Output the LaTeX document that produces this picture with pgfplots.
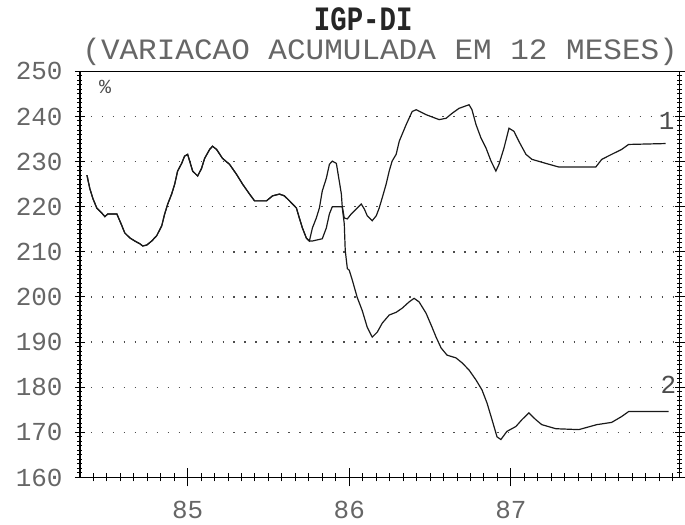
\documentclass[border=0pt]{standalone}
\usepackage{fontspec}
\setmainfont{Liberation Mono}
\usepackage{pgfplots}
\pgfplotsset{compat=1.18}

\pgfplotstableread{
x y
84.377 227.0
84.395 224.0
84.414 221.8
84.438 219.7
84.469 218.6
84.488 217.8
84.506 218.4
84.562 218.4
84.580 216.9
84.593 215.8
84.611 214.2
84.642 213.1
84.673 212.4
84.704 211.8
84.722 211.3
84.747 211.5
84.778 212.4
84.809 213.6
84.840 215.8
84.858 218.4
84.877 220.6
84.901 222.8
84.920 225.0
84.938 227.9
84.963 229.6
84.981 231.2
85.000 231.6
85.031 227.9
85.062 226.8
85.086 228.5
85.105 230.7
85.136 232.7
85.154 233.4
85.179 232.7
85.216 230.7
85.259 229.4
85.302 227.2
85.340 225.0
85.383 222.8
85.414 221.3
85.488 221.3
85.525 222.4
85.568 222.8
85.599 222.4
85.630 221.3
85.673 219.7
85.691 217.5
85.710 215.3
85.735 213.0
85.753 212.4
85.772 212.4
85.833 212.9
85.858 215.3
85.877 218.4
85.895 220.0
85.957 220.0
85.969 217.5
85.988 217.3
86.012 218.4
86.043 219.5
86.074 220.6
86.093 219.5
86.111 218.0
86.142 216.9
86.167 218.0
86.185 219.7
86.204 222.0
86.228 225.0
86.247 227.9
86.265 230.1
86.290 231.6
86.309 234.5
86.352 238.2
86.389 241.1
86.414 241.5
86.475 240.4
86.556 239.3
86.599 239.6
86.636 240.7
86.679 241.8
86.741 242.6
86.759 241.5
86.784 238.2
86.815 235.2
86.846 233.0
86.877 230.1
86.907 227.9
86.926 229.4
86.957 233.0
86.988 237.4
87.019 236.7
87.049 234.5
87.093 231.6
87.130 230.5
87.216 229.6
87.296 228.8
87.525 228.8
87.562 230.5
87.623 231.6
87.685 232.7
87.728 233.8
87.957 234.0
}\serieA

\pgfplotstableread{
x y
84.377 227.0
84.395 224.0
84.414 221.8
84.438 219.7
84.469 218.6
84.488 217.8
84.506 218.4
84.562 218.4
84.580 216.9
84.593 215.8
84.611 214.2
84.642 213.1
84.673 212.4
84.704 211.8
84.722 211.3
84.747 211.5
84.778 212.4
84.809 213.6
84.840 215.8
84.858 218.4
84.877 220.6
84.901 222.8
84.920 225.0
84.938 227.9
84.963 229.6
84.981 231.2
85.000 231.6
85.031 227.9
85.062 226.8
85.086 228.5
85.105 230.7
85.136 232.7
85.154 233.4
85.179 232.7
85.216 230.7
85.259 229.4
85.302 227.2
85.340 225.0
85.383 222.8
85.414 221.3
85.488 221.3
85.525 222.4
85.568 222.8
85.599 222.4
85.630 221.3
85.673 219.7
85.691 217.5
85.710 215.3
85.735 213.0
85.753 212.4
85.772 215.3
85.796 217.5
85.815 219.7
85.833 223.5
85.858 226.3
85.877 229.4
85.895 230.1
85.920 229.6
85.938 225.7
85.951 222.8
85.957 219.7
85.969 216.2
85.975 210.3
85.988 206.3
86.000 205.9
86.019 203.7
86.049 199.9
86.080 197.0
86.111 193.3
86.142 191.1
86.173 192.2
86.204 194.2
86.247 196.0
86.290 196.6
86.327 197.5
86.370 198.9
86.401 199.7
86.432 198.9
86.475 196.4
86.512 193.3
86.537 191.1
86.568 188.7
86.605 187.1
86.660 186.5
86.698 185.4
86.741 183.8
86.784 181.6
86.821 179.4
86.852 176.5
86.883 172.8
86.914 169.0
86.938 168.4
86.975 170.2
87.031 171.3
87.068 172.8
87.111 174.3
87.154 172.8
87.191 171.7
87.278 170.8
87.420 170.6
87.531 171.7
87.623 172.2
87.685 173.5
87.728 174.6
87.975 174.6
}\serieB

\begin{document}
\begin{tikzpicture}
\begin{axis}[
  name=ax,
  scale only axis,
  width=300.5pt, height=203.5pt,
  xmin=84.333, xmax=88.043,
  ymin=160, ymax=250,
  xtick={85,86,87}, xticklabels={85,86,87},
  minor xtick={84.41667,84.5,...,88.0},
  ytick={160,170,...,250},
  minor y tick num=9,
  ymajorgrids,
  grid style={black!70, dash pattern=on 0.8pt off 4.7pt, line width=0.7pt},
  axis line style={black, line width=0.7pt},
  xtick pos=bottom, ytick pos=both,
  tick align=center,
  xtick style={black, line width=0.5pt, /pgfplots/major tick length=9pt, /pgfplots/minor tick length=4pt},
  ytick style={black, line width=0.5pt, /pgfplots/major tick length=5pt, /pgfplots/minor tick length=2.5pt},
  /pgf/number format/assume math mode=true,
  yticklabel style={font=\fontsize{13}{13}\selectfont, text=black!60, xshift=-3pt},
  xticklabel style={font=\fontsize{13}{13}\selectfont, text=black!60, yshift=-6pt},
  clip=false,
]
\addplot[black!90, line width=0.6pt] table {\serieA};
\addplot[black!90, line width=0.6pt] table {\serieB};
\node[font=\fontsize{10}{10}\selectfont, text=black!70] at (axis cs:84.49,246.6) {\%};
\node[font=\fontsize{13}{13}\selectfont, text=black!70] at (axis cs:87.963,238.9) {1};
\node[font=\fontsize{13}{13}\selectfont, text=black!70] at (axis cs:87.975,180.5) {2};
\path ([xshift=-40pt,yshift=-21.75pt]rel axis cs:0,0) rectangle ([xshift=302.5pt,yshift=239.25pt]rel axis cs:0,0);
\end{axis}
\node[font=\fontsize{13.7}{13.7}\selectfont\bfseries, text=black!85, yscale=1.25, inner sep=0pt] at ([xshift=142pt,yshift=229.5pt]ax.south west) {IGP-DI};
\node[font=\fontsize{14.8}{14.8}\selectfont, text=black!60, inner sep=0pt, xscale=1.05] at ([xshift=150.5pt,yshift=213.5pt]ax.south west) {(VARIACAO ACUMULADA EM 12 MESES)};
\end{tikzpicture}
\end{document}
